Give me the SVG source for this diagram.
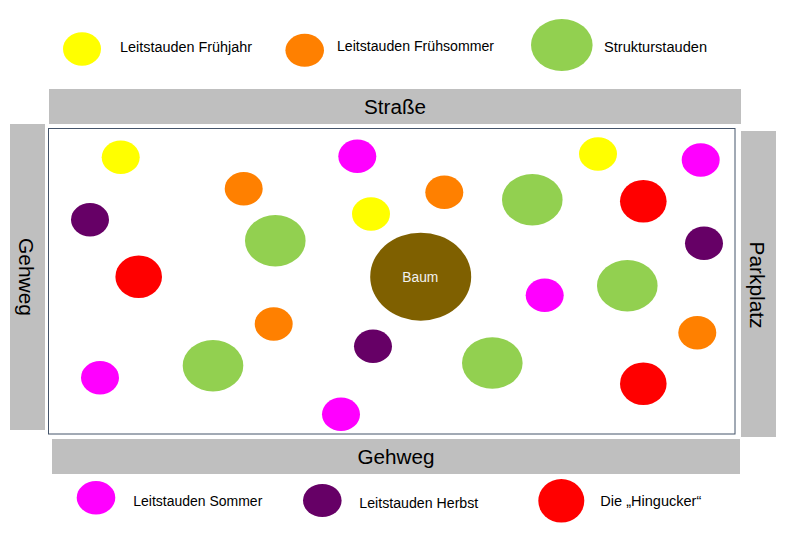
<svg xmlns="http://www.w3.org/2000/svg" width="800" height="548" viewBox="0 0 800 548">
<style>
  .bar { fill: #BFBFBF; }
  .bed { fill: #FFFFFF; stroke: #44546A; stroke-width: 1; }
  .lbl { font-family: "Liberation Sans", Arial, sans-serif; font-size: 14px; fill: #000000; }
  .big { font-family: "Liberation Sans", Arial, sans-serif; font-size: 20px; fill: #000000; text-anchor: middle; }
  .baum { font-family: "Liberation Sans", Arial, sans-serif; font-size: 14px; fill: #F2F2F2; text-anchor: middle; }
  .yel { fill: #FFFF00; }
  .ora { fill: #FF8000; }
  .grn { fill: #92D050; }
  .mag { fill: #FF00FF; }
  .pur { fill: #660066; }
  .red { fill: #FF0000; }
  .brn { fill: #7F6000; }
</style>
<rect width="800" height="548" fill="#FFFFFF"/>

<!-- Legend top -->
<g id="legend-fruehjahr">
  <ellipse class="yel" cx="82" cy="49" rx="19" ry="16.7"/>
  <text class="lbl" x="120" y="52" textLength="132" lengthAdjust="spacingAndGlyphs">Leitstauden Frühjahr</text>
</g>
<g id="legend-fruehsommer">
  <ellipse class="ora" cx="304.7" cy="50.3" rx="19.3" ry="16.5"/>
  <text class="lbl" x="337" y="51" textLength="157" lengthAdjust="spacingAndGlyphs">Leitstauden Frühsommer</text>
</g>
<g id="legend-struktur">
  <ellipse class="grn" cx="561.8" cy="45" rx="30.8" ry="26"/>
  <text class="lbl" x="604" y="52" textLength="103" lengthAdjust="spacingAndGlyphs">Strukturstauden</text>
</g>

<!-- Surroundings -->
<g id="strasse">
  <rect class="bar" x="49" y="89" width="692" height="35"/>
  <text class="big" x="395" y="114" textLength="62" lengthAdjust="spacingAndGlyphs">Straße</text>
</g>
<g id="gehweg-links">
  <rect class="bar" x="10" y="124" width="35" height="306"/>
  <text class="big" transform="translate(19,277) rotate(90)" textLength="78" lengthAdjust="spacingAndGlyphs">Gehweg</text>
</g>
<g id="parkplatz">
  <rect class="bar" x="741" y="131" width="35" height="306"/>
  <text class="big" transform="translate(750,285) rotate(90)" textLength="87" lengthAdjust="spacingAndGlyphs">Parkplatz</text>
</g>
<g id="gehweg-unten">
  <rect class="bar" x="52" y="439" width="688" height="35"/>
  <text class="big" x="396" y="464" textLength="77" lengthAdjust="spacingAndGlyphs">Gehweg</text>
</g>

<!-- Bed -->
<g id="beet">
  <rect class="bed" x="48.5" y="128.5" width="686.5" height="305.5"/>
</g>

<g id="connectors"></g>

<!-- Plants -->
<g id="pflanzen">
  <g id="baum">
    <ellipse class="brn" cx="420.7" cy="276.7" rx="50.5" ry="44"/>
    <text class="baum" x="420.3" y="282" textLength="36" lengthAdjust="spacingAndGlyphs">Baum</text>
  </g>
  <g id="gelb">
    <ellipse class="yel" cx="120.7" cy="157.3" rx="19" ry="16.7"/>
    <ellipse class="yel" cx="371" cy="214" rx="19" ry="16.7"/>
    <ellipse class="yel" cx="598" cy="154" rx="19" ry="16.7"/>
  </g>
  <g id="magenta">
    <ellipse class="mag" cx="357.3" cy="156.3" rx="19" ry="16.7"/>
    <ellipse class="mag" cx="100" cy="377.7" rx="19" ry="16.7"/>
    <ellipse class="mag" cx="341" cy="414.3" rx="19" ry="16.7"/>
    <ellipse class="mag" cx="700.7" cy="160" rx="19" ry="16.7"/>
    <ellipse class="mag" cx="544.7" cy="295.3" rx="19" ry="16.7"/>
  </g>
  <g id="orange">
    <ellipse class="ora" cx="243.7" cy="188.7" rx="19" ry="16.7"/>
    <ellipse class="ora" cx="273.7" cy="324" rx="19" ry="16.7"/>
    <ellipse class="ora" cx="444.3" cy="192.3" rx="19" ry="16.7"/>
    <ellipse class="ora" cx="697.3" cy="332.7" rx="19" ry="16.7"/>
  </g>
  <g id="lila">
    <ellipse class="pur" cx="90" cy="219.7" rx="19" ry="16.7"/>
    <ellipse class="pur" cx="373" cy="346.3" rx="19" ry="16.7"/>
    <ellipse class="pur" cx="704" cy="243.3" rx="19" ry="16.7"/>
  </g>
  <g id="gruen">
    <ellipse class="grn" cx="275.3" cy="240.7" rx="30.3" ry="25.7"/>
    <ellipse class="grn" cx="213" cy="365.7" rx="30.3" ry="25.7"/>
    <ellipse class="grn" cx="532.3" cy="199.7" rx="30.3" ry="25.7"/>
    <ellipse class="grn" cx="627.3" cy="285.7" rx="30.3" ry="25.7"/>
    <ellipse class="grn" cx="492.3" cy="363" rx="30.3" ry="25.7"/>
  </g>
  <g id="rot">
    <ellipse class="red" cx="138.7" cy="276.7" rx="23.3" ry="21.3"/>
    <ellipse class="red" cx="643.3" cy="201.3" rx="23.3" ry="21.3"/>
    <ellipse class="red" cx="643.3" cy="383.7" rx="23.3" ry="21.3"/>
  </g>
</g>

<!-- Legend bottom -->
<g id="legend-sommer">
  <ellipse class="mag" cx="96" cy="497.7" rx="19.3" ry="16.7"/>
  <text class="lbl" x="133.3" y="506" textLength="129" lengthAdjust="spacingAndGlyphs">Leitstauden Sommer</text>
</g>
<g id="legend-herbst">
  <ellipse class="pur" cx="322.3" cy="500.5" rx="19.3" ry="16.5"/>
  <text class="lbl" x="359.3" y="508.3" textLength="119" lengthAdjust="spacingAndGlyphs">Leitstauden Herbst</text>
</g>
<g id="legend-hingucker">
  <ellipse class="red" cx="561.3" cy="500.8" rx="23" ry="21.8"/>
  <text class="lbl" x="600.3" y="506" textLength="101" lengthAdjust="spacingAndGlyphs">Die „Hingucker“</text>
</g>
</svg>
